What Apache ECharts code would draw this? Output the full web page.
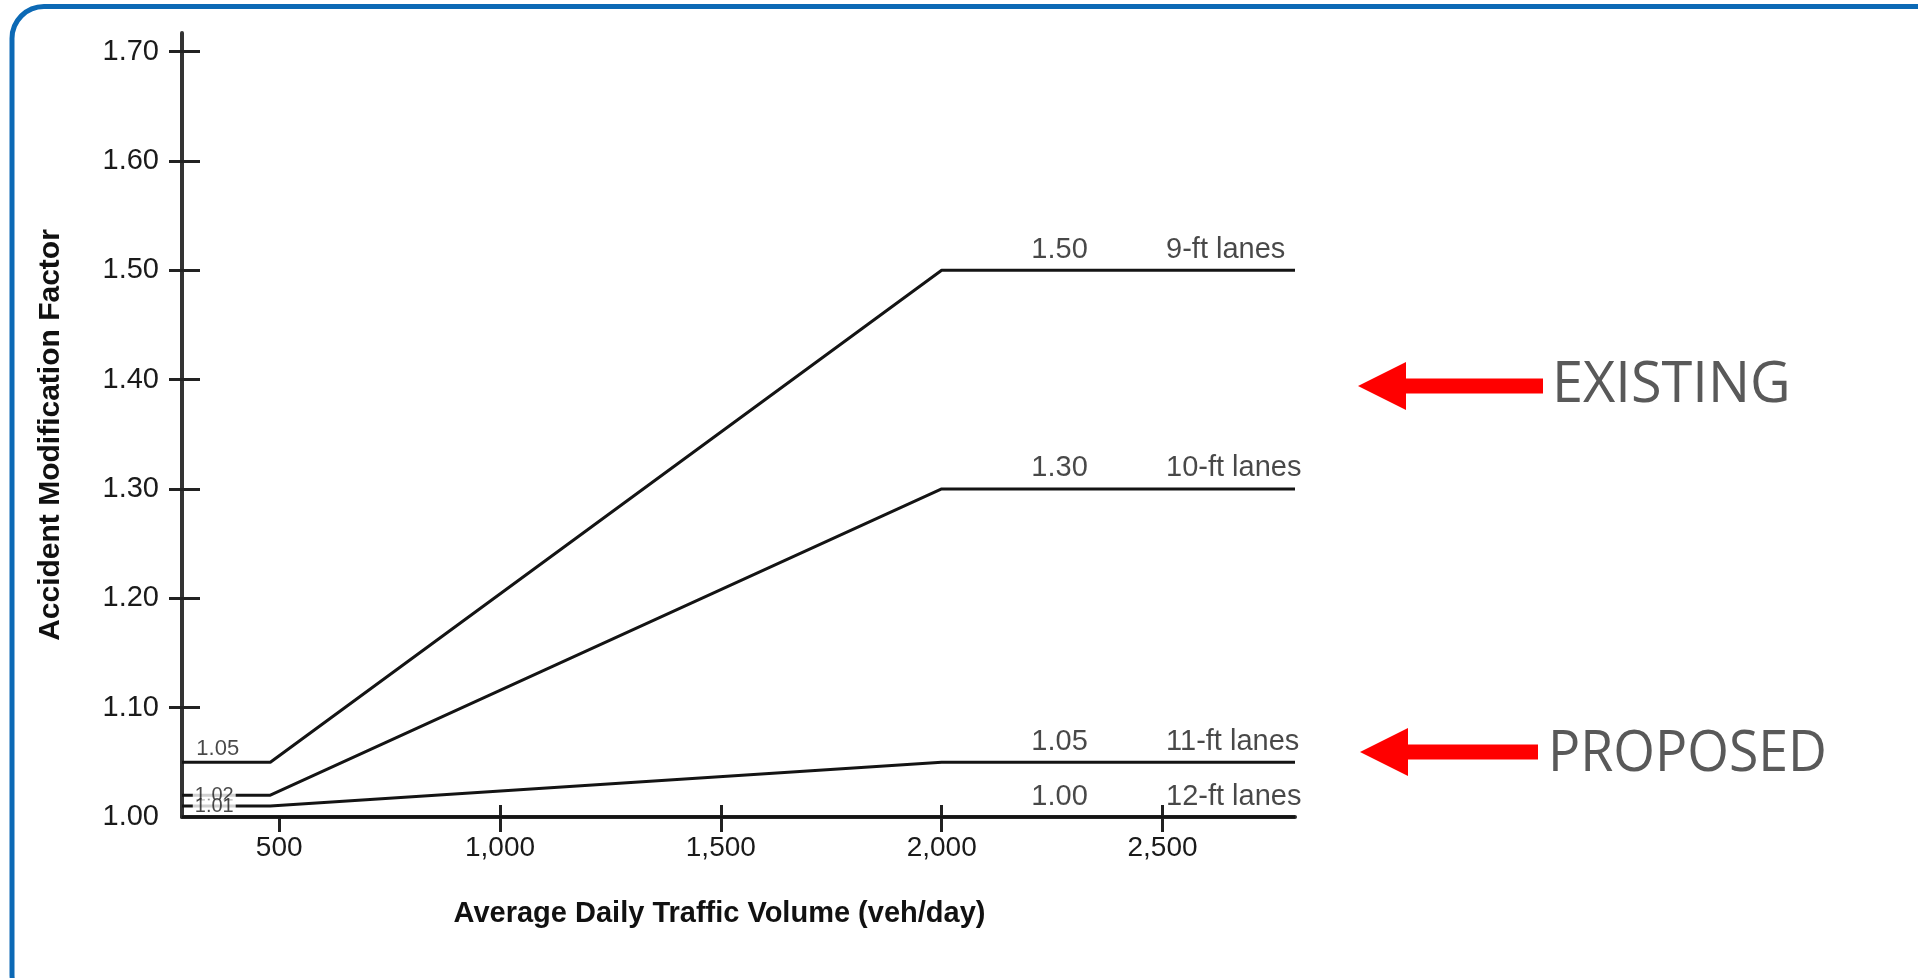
<!DOCTYPE html>
<html>
<head>
<meta charset="utf-8">
<title>Accident Modification Factor</title>
<script src="https://cdn.jsdelivr.net/npm/echarts@6/dist/echarts.min.js"></script>
<style>
  html, body { margin: 0; padding: 0; background: #fff; }
  #main { width: 1918px; height: 978px; }
</style>
</head>
<body>
<div id="main"></div>
<script>
// data
var lane9 = [[280, 1.05], [480, 1.05], [2000, 1.50], [2800, 1.50]]
var lane10 = [[280, 1.02], [480, 1.02], [2000, 1.30], [2800, 1.30]]
var lane11 = [[280, 1.01], [480, 1.01], [2000, 1.05], [2800, 1.05]]
var lane12 = [[280, 1.00], [2800, 1.00]]

var xTicks = [500, 1000, 1500, 2000, 2500]
var yTicks = [1.00, 1.10, 1.20, 1.30, 1.40, 1.50, 1.60, 1.70]

// labels on the right end of each line
var endLabels = [[2267, 1.50, '1.50'], [2267, 1.30, '1.30'], [2267, 1.05, '1.05'], [2267, 1.00, '1.00']]
var laneNames = [[2508, 1.50, '9-ft lanes'], [2508, 1.30, '10-ft lanes'], [2508, 1.05, '11-ft lanes'], [2508, 1.00, '12-ft lanes']]
// small labels at the start of the lines
var startTop = [[361, 1.05, '1.05']]
var startOn = [[353, 1.02, '1.02'], [353, 1.01, '1.01']]

var myChart = echarts.init(document.getElementById('main'))

function comma(v) {
  return String(v).replace(/\B(?=(\d{3})+(?!\d))/g, ',')
}

var font = 'Liberation Sans, Arial, sans-serif'
var lineStyle = { color: '#141414', width: 3 }

function laneSeries(data) {
  return {
    type: 'line',
    data: data,
    symbol: 'none',
    lineStyle: lineStyle,
    silent: true,
    z: 3
  }
}

function textSeries(data, label) {
  return {
    type: 'scatter',
    data: data,
    symbolSize: 0,
    silent: true,
    z: 5,
    label: Object.assign({ show: true, formatter: function (p) { return p.data[2] } }, label)
  }
}

var option = {
  animation: false,
  backgroundColor: '#fff',
  textStyle: { fontFamily: font },
  grid: { left: 182, right: 623, top: 33, bottom: 161, containLabel: false },
  xAxis: [
    {
      type: 'value',
      min: 280,
      max: 2800,
      position: 'bottom',
      splitLine: { show: false },
      axisLine: { show: true, lineStyle: { color: '#2b2b2b', width: 4 } },
      axisTick: { show: true, inside: false, length: 15, customValues: xTicks, lineStyle: { color: '#222', width: 3 } },
      axisLabel: { customValues: xTicks, formatter: comma, fontSize: 28, color: '#1a1a1a', margin: 17, fontFamily: font },
      name: 'Average Daily Traffic Volume (veh/day)',
      nameLocation: 'middle',
      nameGap: 82,
      nameTextStyle: { fontSize: 29, fontWeight: 'bold', color: '#111', fontFamily: font, padding: [0, 38, 0, 0] }
    },
    {
      type: 'value',
      min: 280,
      max: 2800,
      position: 'bottom',
      splitLine: { show: false },
      axisLine: { show: false },
      axisTick: { show: true, inside: true, length: 12, customValues: [1000, 1500, 2000, 2500], lineStyle: { color: '#222', width: 3 } },
      axisLabel: { show: false }
    }
  ],
  yAxis: [
    {
      type: 'value',
      min: 1.0,
      max: 1.717,
      position: 'left',
      splitLine: { show: false },
      axisLine: { show: true, lineStyle: { color: '#333', width: 4 } },
      axisTick: { show: true, inside: false, length: 13, customValues: yTicks.slice(1), lineStyle: { color: '#222', width: 3 } },
      axisLabel: {
        customValues: yTicks,
        formatter: function (v) { return v.toFixed(2) },
        fontSize: 29,
        color: '#1a1a1a',
        margin: 23,
        fontFamily: font
      },
      name: 'Accident Modification Factor',
      nameLocation: 'middle',
      nameGap: 116,
      nameTextStyle: { fontSize: 30, fontWeight: 'bold', color: '#111', fontFamily: font, padding: [0, 20, 0, 0] }
    },
    {
      type: 'value',
      min: 1.0,
      max: 1.717,
      position: 'left',
      splitLine: { show: false },
      axisLine: { show: false },
      axisTick: { show: true, inside: true, length: 18, customValues: yTicks.slice(1), lineStyle: { color: '#222', width: 3 } },
      axisLabel: { show: false }
    }
  ],
  series: [
    laneSeries(lane9),
    laneSeries(lane10),
    laneSeries(lane11),
    laneSeries(lane12),
    textSeries(endLabels, { position: 'top', distance: 6, verticalAlign: 'bottom', fontSize: 29, color: '#1a1a1a', fontFamily: font }),
    textSeries(laneNames, { position: 'top', distance: 6, align: 'left', verticalAlign: 'bottom', fontSize: 29, color: '#1a1a1a', fontFamily: font }),
    textSeries(startTop, { position: 'top', distance: 2, verticalAlign: 'bottom', fontSize: 22, color: '#1a1a1a', fontFamily: font }),
    textSeries(startOn, {
      position: 'inside',
      fontSize: 20,
      lineHeight: 13,
      color: '#1a1a1a',
      fontFamily: font,
      backgroundColor: '#fff',
      padding: [0, 2]
    })
  ],
  graphic: [
    // rounded frame
    {
      type: 'rect',
      shape: { x: 12, y: 6.5, width: 1940, height: 1000, r: 32 },
      style: { fill: 'none', stroke: '#0c69b5', lineWidth: 5 },
      silent: true
    },
    // arrows
    {
      type: 'polygon',
      shape: { points: [[1358, 386], [1406, 362], [1406, 378.5], [1543, 378.5], [1543, 393.5], [1406, 393.5], [1406, 410]] },
      style: { fill: '#ff0000' },
      silent: true
    },
    {
      type: 'polygon',
      shape: { points: [[1360, 752], [1408, 728], [1408, 744.5], [1538, 744.5], [1538, 759.5], [1408, 759.5], [1408, 776]] },
      style: { fill: '#ff0000' },
      silent: true
    },
    {
      type: 'text',
      x: 1552,
      y: 386,
      scaleX: 0.98,
      style: { text: 'EXISTING', font: '57px "Open Sans", sans-serif', fill: '#595959', textVerticalAlign: 'middle' },
      silent: true
    },
    {
      type: 'text',
      x: 1548,
      y: 755,
      scaleX: 0.94,
      style: { text: 'PROPOSED', font: '57px "Open Sans", sans-serif', fill: '#595959', textVerticalAlign: 'middle' },
      silent: true
    }
  ]
}

myChart.setOption(option)
</script>
</body>
</html>
